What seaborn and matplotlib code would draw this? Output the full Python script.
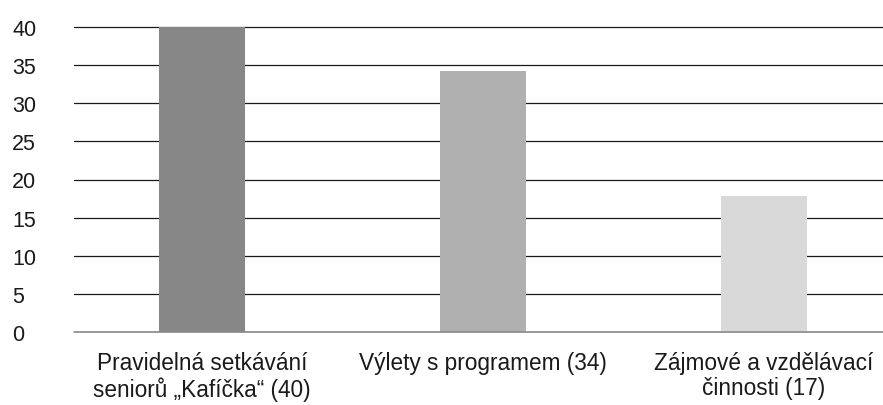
import matplotlib
matplotlib.use("Agg")
import pandas as pd
import seaborn as sns
import matplotlib.pyplot as plt

# data
kategorie = ["Pravidelná setkávání\nseniorů „Kafíčka“ (40)",
             "Výlety s programem (34)",
             "Zájmové a vzdělávací\nčinnosti (17)"]
hodnoty = [40, 34.2, 17.9]
barvy = ["#878787", "#b0b0b0", "#d9d9d9"]
yticks = [0, 5, 10, 15, 20, 25, 30, 35, 40]

datos = pd.DataFrame({"kategorie": kategorie, "hodnota": hodnoty})

sns.set_theme(style="white")
plt.rcParams["font.family"] = ["Liberation Sans", "DejaVu Sans"]

fig = plt.figure(figsize=(8.83, 4.06), dpi=100)
ax = fig.add_axes([74 / 883, 1 - 333 / 406, 1 - 74 / 883, (333 - 28) / 406])

sns.barplot(data=datos, x="kategorie", y="hodnota", hue="kategorie",
            palette=barvy, width=0.306, legend=False, ax=ax, saturation=1,
            linewidth=0, zorder=3)

for t in yticks[1:]:
    ax.axhline(t, color="#1a1a1a", lw=0.9, zorder=1, clip_on=False)
ax.axhline(0, color="#888888", lw=1.2, zorder=4, clip_on=False)

ax.set_ylim(0, 40)
ax.set_xlim(-0.455, 2.423)
ax.set_yticks(yticks)
ax.set_yticklabels([str(t) for t in yticks], ha="left", fontsize=15.5, color="#1a1a1a")
ax.tick_params(axis="y", length=0, pad=44.6)
ax.tick_params(axis="x", length=0, pad=14, labelsize=16.3, labelcolor="#1a1a1a")
for lab in ax.get_xticklabels():
    lab.set_linespacing(1.1)
ax.set_xlabel("")
ax.set_ylabel("")
for s in ax.spines.values():
    s.set_visible(False)

plt.savefig("out.png", dpi=100)
plt.close()
